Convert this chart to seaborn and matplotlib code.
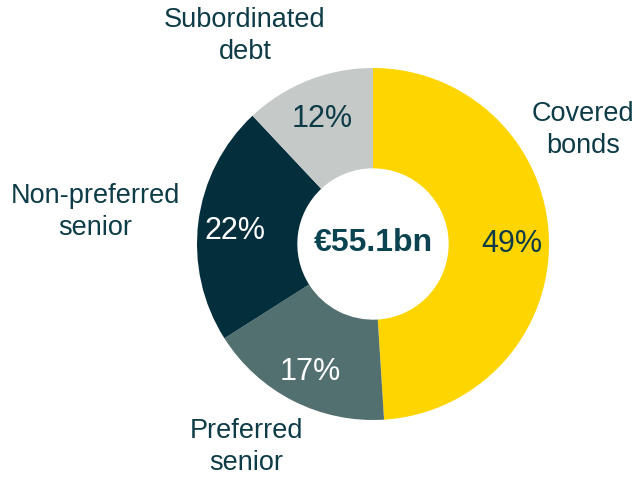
import matplotlib
matplotlib.use("Agg")
import matplotlib.pyplot as plt
import seaborn as sns

# data
categories = ["Covered\nbonds", "Preferred\nsenior", "Non-preferred\nsenior", "Subordinated\ndebt"]
shares = [49, 17, 22, 12]
total_label = "€55.1bn"

# esthetics
slice_colors = ["#FFD500", "#537070", "#032F3D", "#C5CAC8"]
pct_colors = ["#0D3B47", "white", "white", "#0D3B47"]
text_color = "#0D3B47"
# outer label anchors, in pixel coords of the 638x479 canvas
label_pos = [(583, 349), (246, 32), (95, 267), (245, 443)]

sns.set_theme(style="white")
plt.rcParams["font.family"] = ["Liberation Sans", "DejaVu Sans"]

fig = plt.figure(figsize=(6.38, 4.79), dpi=100)
ax = fig.add_axes([0, 0, 1, 1])

wedges, texts, autotexts = ax.pie(
    shares,
    colors=slice_colors,
    startangle=90,
    counterclock=False,
    center=(373, 235),
    radius=176,
    autopct="%d%%",
    pctdistance=0.79,
    wedgeprops=dict(width=176 * 0.57, linewidth=0),
    textprops=dict(fontsize=22),
    frame=True,
)
ax.axis("off")
ax.set_xlim(0, 638)
ax.set_ylim(0, 479)
ax.set_aspect("equal")

for t, c in zip(autotexts, pct_colors):
    t.set_color(c)
    x, y = t.get_position()
    t.set_position((x, y - 4))

for name, (x, y) in zip(categories, label_pos):
    ax.text(x, y, name, ha="center", va="center", fontsize=19.5,
            color=text_color, linespacing=1.33)

ax.text(373, 236, total_label, ha="center", va="center", fontsize=23,
        fontweight="bold", color="#0B4350")

fig.savefig("out.png", dpi=100)
